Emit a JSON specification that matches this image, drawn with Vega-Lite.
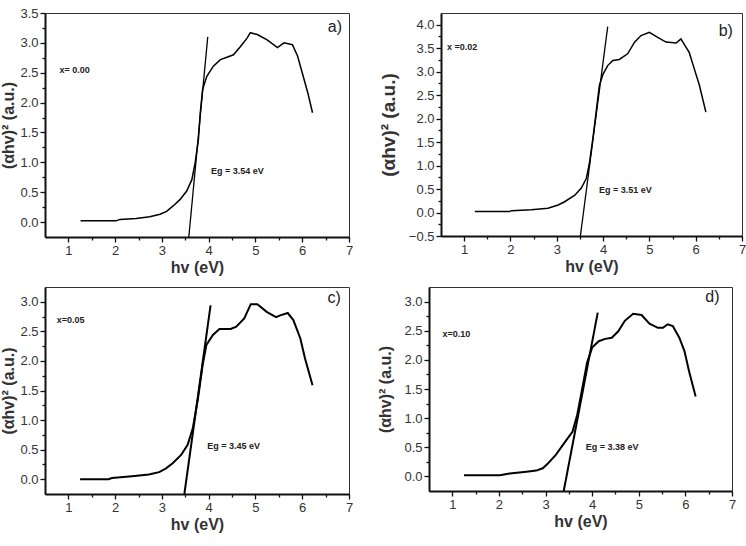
{
  "$schema": "https://vega.github.io/schema/vega-lite/v6.json",
  "padding": {"left": 0, "top": 6, "right": 0, "bottom": 0},
  "background": "white",
  "datasets": {
    "curves": [
      {"panel": "a", "hv": 1.26, "y": 0.02}, {"panel": "a", "hv": 2.02, "y": 0.02}, {"panel": "a", "hv": 2.1, "y": 0.045},
      {"panel": "a", "hv": 2.45, "y": 0.06}, {"panel": "a", "hv": 2.74, "y": 0.09}, {"panel": "a", "hv": 2.96, "y": 0.13},
      {"panel": "a", "hv": 3.1, "y": 0.18}, {"panel": "a", "hv": 3.24, "y": 0.27}, {"panel": "a", "hv": 3.39, "y": 0.38},
      {"panel": "a", "hv": 3.53, "y": 0.52}, {"panel": "a", "hv": 3.64, "y": 0.71}, {"panel": "a", "hv": 3.71, "y": 0.99},
      {"panel": "a", "hv": 3.78, "y": 1.38}, {"panel": "a", "hv": 3.82, "y": 1.83}, {"panel": "a", "hv": 3.87, "y": 2.22},
      {"panel": "a", "hv": 3.96, "y": 2.44}, {"panel": "a", "hv": 4.1, "y": 2.61}, {"panel": "a", "hv": 4.25, "y": 2.72},
      {"panel": "a", "hv": 4.39, "y": 2.76}, {"panel": "a", "hv": 4.53, "y": 2.8}, {"panel": "a", "hv": 4.68, "y": 2.94},
      {"panel": "a", "hv": 4.82, "y": 3.08}, {"panel": "a", "hv": 4.89, "y": 3.17}, {"panel": "a", "hv": 5.04, "y": 3.14},
      {"panel": "a", "hv": 5.25, "y": 3.05}, {"panel": "a", "hv": 5.47, "y": 2.92}, {"panel": "a", "hv": 5.61, "y": 3.0},
      {"panel": "a", "hv": 5.79, "y": 2.97}, {"panel": "a", "hv": 5.9, "y": 2.78}, {"panel": "a", "hv": 6.0, "y": 2.5},
      {"panel": "a", "hv": 6.12, "y": 2.16}, {"panel": "a", "hv": 6.22, "y": 1.83},

      {"panel": "b", "hv": 1.23, "y": 0.02}, {"panel": "b", "hv": 1.98, "y": 0.02}, {"panel": "b", "hv": 2.02, "y": 0.04},
      {"panel": "b", "hv": 2.45, "y": 0.06}, {"panel": "b", "hv": 2.81, "y": 0.09}, {"panel": "b", "hv": 3.03, "y": 0.16},
      {"panel": "b", "hv": 3.17, "y": 0.23}, {"panel": "b", "hv": 3.39, "y": 0.37}, {"panel": "b", "hv": 3.53, "y": 0.52},
      {"panel": "b", "hv": 3.64, "y": 0.73}, {"panel": "b", "hv": 3.71, "y": 1.08}, {"panel": "b", "hv": 3.78, "y": 1.58},
      {"panel": "b", "hv": 3.85, "y": 2.14}, {"panel": "b", "hv": 3.92, "y": 2.71}, {"panel": "b", "hv": 4.0, "y": 2.95},
      {"panel": "b", "hv": 4.1, "y": 3.13}, {"panel": "b", "hv": 4.21, "y": 3.24}, {"panel": "b", "hv": 4.35, "y": 3.26},
      {"panel": "b", "hv": 4.53, "y": 3.38}, {"panel": "b", "hv": 4.68, "y": 3.63}, {"panel": "b", "hv": 4.82, "y": 3.77},
      {"panel": "b", "hv": 5.0, "y": 3.84}, {"panel": "b", "hv": 5.18, "y": 3.73}, {"panel": "b", "hv": 5.36, "y": 3.63},
      {"panel": "b", "hv": 5.58, "y": 3.61}, {"panel": "b", "hv": 5.68, "y": 3.7}, {"panel": "b", "hv": 5.86, "y": 3.41},
      {"panel": "b", "hv": 5.97, "y": 3.06}, {"panel": "b", "hv": 6.08, "y": 2.71}, {"panel": "b", "hv": 6.22, "y": 2.14},

      {"panel": "c", "hv": 1.25, "y": 0.0}, {"panel": "c", "hv": 1.86, "y": 0.0}, {"panel": "c", "hv": 1.93, "y": 0.02},
      {"panel": "c", "hv": 2.36, "y": 0.05}, {"panel": "c", "hv": 2.72, "y": 0.08}, {"panel": "c", "hv": 2.94, "y": 0.12},
      {"panel": "c", "hv": 3.08, "y": 0.18}, {"panel": "c", "hv": 3.23, "y": 0.27}, {"panel": "c", "hv": 3.41, "y": 0.41},
      {"panel": "c", "hv": 3.55, "y": 0.58}, {"panel": "c", "hv": 3.66, "y": 0.86}, {"panel": "c", "hv": 3.77, "y": 1.36},
      {"panel": "c", "hv": 3.87, "y": 1.93}, {"panel": "c", "hv": 3.95, "y": 2.27}, {"panel": "c", "hv": 4.09, "y": 2.44},
      {"panel": "c", "hv": 4.23, "y": 2.54}, {"panel": "c", "hv": 4.47, "y": 2.54}, {"panel": "c", "hv": 4.59, "y": 2.58},
      {"panel": "c", "hv": 4.76, "y": 2.72}, {"panel": "c", "hv": 4.9, "y": 2.96}, {"panel": "c", "hv": 5.04, "y": 2.96},
      {"panel": "c", "hv": 5.24, "y": 2.83}, {"panel": "c", "hv": 5.44, "y": 2.74}, {"panel": "c", "hv": 5.53, "y": 2.77},
      {"panel": "c", "hv": 5.69, "y": 2.81}, {"panel": "c", "hv": 5.81, "y": 2.69}, {"panel": "c", "hv": 5.96, "y": 2.38},
      {"panel": "c", "hv": 6.06, "y": 2.04}, {"panel": "c", "hv": 6.22, "y": 1.59},

      {"panel": "d", "hv": 1.25, "y": 0.02}, {"panel": "d", "hv": 2.02, "y": 0.02}, {"panel": "d", "hv": 2.23, "y": 0.05},
      {"panel": "d", "hv": 2.59, "y": 0.08}, {"panel": "d", "hv": 2.8, "y": 0.1}, {"panel": "d", "hv": 2.94, "y": 0.14},
      {"panel": "d", "hv": 3.05, "y": 0.22}, {"panel": "d", "hv": 3.22, "y": 0.37}, {"panel": "d", "hv": 3.4, "y": 0.57},
      {"panel": "d", "hv": 3.58, "y": 0.77}, {"panel": "d", "hv": 3.68, "y": 1.06}, {"panel": "d", "hv": 3.79, "y": 1.52},
      {"panel": "d", "hv": 3.89, "y": 1.95}, {"panel": "d", "hv": 4.0, "y": 2.21}, {"panel": "d", "hv": 4.14, "y": 2.32},
      {"panel": "d", "hv": 4.28, "y": 2.36}, {"panel": "d", "hv": 4.42, "y": 2.38}, {"panel": "d", "hv": 4.56, "y": 2.49},
      {"panel": "d", "hv": 4.7, "y": 2.67}, {"panel": "d", "hv": 4.88, "y": 2.79}, {"panel": "d", "hv": 5.06, "y": 2.77},
      {"panel": "d", "hv": 5.23, "y": 2.62}, {"panel": "d", "hv": 5.41, "y": 2.55}, {"panel": "d", "hv": 5.52, "y": 2.55},
      {"panel": "d", "hv": 5.62, "y": 2.61}, {"panel": "d", "hv": 5.73, "y": 2.58}, {"panel": "d", "hv": 5.87, "y": 2.38},
      {"panel": "d", "hv": 5.98, "y": 2.15}, {"panel": "d", "hv": 6.08, "y": 1.8}, {"panel": "d", "hv": 6.22, "y": 1.37}
    ],
    "tangents": [
      {"panel": "a", "hv": 3.575, "y": -0.25}, {"panel": "a", "hv": 3.98, "y": 3.1},
      {"panel": "b", "hv": 3.51, "y": -0.5}, {"panel": "b", "hv": 4.1, "y": 3.96},
      {"panel": "c", "hv": 3.48, "y": -0.25}, {"panel": "c", "hv": 4.04, "y": 2.94},
      {"panel": "d", "hv": 3.39, "y": -0.25}, {"panel": "d", "hv": 4.12, "y": 2.81}
    ],
    "notes": [
      {"panel": "a", "kind": "small", "hv": 0.81, "y": 2.55, "text": "x= 0.00"},
      {"panel": "a", "kind": "small", "hv": 4.05, "y": 0.86, "text": "Eg = 3.54 eV"},
      {"panel": "a", "kind": "tag", "hv": 6.7, "y": 3.27, "text": "a)"},
      {"panel": "b", "kind": "small", "hv": 0.63, "y": 3.52, "text": "x =0.02"},
      {"panel": "b", "kind": "small", "hv": 3.91, "y": 0.48, "text": "Eg = 3.51 eV"},
      {"panel": "b", "kind": "tag", "hv": 6.65, "y": 3.87, "text": "b)"},
      {"panel": "c", "kind": "small", "hv": 0.75, "y": 2.69, "text": "x=0.05"},
      {"panel": "c", "kind": "small", "hv": 3.97, "y": 0.56, "text": "Eg = 3.45 eV"},
      {"panel": "c", "kind": "tag", "hv": 6.68, "y": 3.07, "text": "c)"},
      {"panel": "d", "kind": "small", "hv": 0.79, "y": 2.45, "text": "x=0.10"},
      {"panel": "d", "kind": "small", "hv": 3.86, "y": 0.5, "text": "Eg = 3.38 eV"},
      {"panel": "d", "kind": "tag", "hv": 6.58, "y": 3.08, "text": "d)"}
    ]
  },
  "spacing": 10,
  "vconcat": [
    {
      "spacing": 24,
      "hconcat": [
        {
          "width": 304, "height": 224,
          "resolve": {"axis": {"x": "independent", "y": "independent"}},
          "layer": [
            {"data": {"name": "curves"}, "transform": [{"filter": "datum.panel === 'a'"}],
             "mark": {"type": "line", "color": "black", "strokeWidth": 1.5},
             "encoding": {
               "x": {"field": "hv", "type": "quantitative", "scale": {"domain": [0.5, 7], "nice": false},
                     "axis": {"orient": "bottom", "title": "hv (eV)", "values": [1, 2, 3, 4, 5, 6, 7]}},
               "y": {"field": "y", "type": "quantitative", "scale": {"domain": [-0.25, 3.5], "nice": false},
                     "axis": {"orient": "left", "title": "(αhv)² (a.u.)", "format": ".1f", "values": [0, 0.5, 1, 1.5, 2, 2.5, 3, 3.5]}}
             }},
            {"data": {"name": "tangents"}, "transform": [{"filter": "datum.panel === 'a'"}],
             "mark": {"type": "line", "color": "black", "strokeWidth": 1.3},
             "encoding": {
               "x": {"field": "hv", "type": "quantitative",
                     "axis": {"orient": "bottom", "title": null, "labels": false, "domain": false, "tickSize": 3, "values": [1.5, 2.5, 3.5, 4.5, 5.5, 6.5]}},
               "y": {"field": "y", "type": "quantitative",
                     "axis": {"orient": "left", "title": null, "labels": false, "domain": false, "tickSize": 3, "values": [0.25, 0.75, 1.25, 1.75, 2.25, 2.75, 3.25]}}
             }},
            {"data": {"name": "notes"}, "transform": [{"filter": "datum.panel === 'a' && datum.kind === 'small'"}],
             "mark": {"type": "text", "align": "left", "fontSize": 9, "fontWeight": "bold", "color": "#222"},
             "encoding": {"x": {"field": "hv", "type": "quantitative", "axis": null}, "y": {"field": "y", "type": "quantitative", "axis": null}, "text": {"field": "text"}}},
            {"data": {"name": "notes"}, "transform": [{"filter": "datum.panel === 'a' && datum.kind === 'tag'"}],
             "mark": {"type": "text", "align": "center", "fontSize": 16, "color": "#222"},
             "encoding": {"x": {"field": "hv", "type": "quantitative", "axis": null}, "y": {"field": "y", "type": "quantitative", "axis": null}, "text": {"field": "text"}}}
          ]
        },
        {
          "width": 301, "height": 223,
          "resolve": {"axis": {"x": "independent", "y": "independent"}},
          "layer": [
            {"data": {"name": "curves"}, "transform": [{"filter": "datum.panel === 'b'"}],
             "mark": {"type": "line", "color": "black", "strokeWidth": 1.5},
             "encoding": {
               "x": {"field": "hv", "type": "quantitative", "scale": {"domain": [0.5, 7], "nice": false},
                     "axis": {"orient": "bottom", "title": "hv (eV)", "values": [1, 2, 3, 4, 5, 6, 7]}},
               "y": {"field": "y", "type": "quantitative", "scale": {"domain": [-0.5, 4.25], "nice": false},
                     "axis": {"orient": "left", "title": "(αhv)² (a.u.)", "format": ".1f", "titleFontSize": 19, "titlePadding": 10,
                              "values": [-0.5, 0, 0.5, 1, 1.5, 2, 2.5, 3, 3.5, 4]}}
             }},
            {"data": {"name": "tangents"}, "transform": [{"filter": "datum.panel === 'b'"}],
             "mark": {"type": "line", "color": "black", "strokeWidth": 1.3},
             "encoding": {
               "x": {"field": "hv", "type": "quantitative",
                     "axis": {"orient": "bottom", "title": null, "labels": false, "domain": false, "tickSize": 3, "values": [1.5, 2.5, 3.5, 4.5, 5.5, 6.5]}},
               "y": {"field": "y", "type": "quantitative",
                     "axis": {"orient": "left", "title": null, "labels": false, "domain": false, "tickSize": 3, "values": [-0.25, 0.25, 0.75, 1.25, 1.75, 2.25, 2.75, 3.25, 3.75]}}
             }},
            {"data": {"name": "notes"}, "transform": [{"filter": "datum.panel === 'b' && datum.kind === 'small'"}],
             "mark": {"type": "text", "align": "left", "fontSize": 9, "fontWeight": "bold", "color": "#222"},
             "encoding": {"x": {"field": "hv", "type": "quantitative", "axis": null}, "y": {"field": "y", "type": "quantitative", "axis": null}, "text": {"field": "text"}}},
            {"data": {"name": "notes"}, "transform": [{"filter": "datum.panel === 'b' && datum.kind === 'tag'"}],
             "mark": {"type": "text", "align": "center", "fontSize": 16, "color": "#222"},
             "encoding": {"x": {"field": "hv", "type": "quantitative", "axis": null}, "y": {"field": "y", "type": "quantitative", "axis": null}, "text": {"field": "text"}}}
          ]
        }
      ]
    },
    {
      "spacing": 23,
      "hconcat": [
        {
          "width": 304, "height": 207,
          "resolve": {"axis": {"x": "independent", "y": "independent"}},
          "layer": [
            {"data": {"name": "curves"}, "transform": [{"filter": "datum.panel === 'c'"}],
             "mark": {"type": "line", "color": "black", "strokeWidth": 2},
             "encoding": {
               "x": {"field": "hv", "type": "quantitative", "scale": {"domain": [0.5, 7], "nice": false},
                     "axis": {"orient": "bottom", "title": "hv (eV)", "values": [1, 2, 3, 4, 5, 6, 7]}},
               "y": {"field": "y", "type": "quantitative", "scale": {"domain": [-0.25, 3.25], "nice": false},
                     "axis": {"orient": "left", "title": "(αhv)² (a.u.)", "format": ".1f", "values": [0, 0.5, 1, 1.5, 2, 2.5, 3]}}
             }},
            {"data": {"name": "tangents"}, "transform": [{"filter": "datum.panel === 'c'"}],
             "mark": {"type": "line", "color": "black", "strokeWidth": 2},
             "encoding": {
               "x": {"field": "hv", "type": "quantitative",
                     "axis": {"orient": "bottom", "title": null, "labels": false, "domain": false, "tickSize": 3, "values": [1.5, 2.5, 3.5, 4.5, 5.5, 6.5]}},
               "y": {"field": "y", "type": "quantitative",
                     "axis": {"orient": "left", "title": null, "labels": false, "domain": false, "tickSize": 3, "values": [0.25, 0.75, 1.25, 1.75, 2.25, 2.75]}}
             }},
            {"data": {"name": "notes"}, "transform": [{"filter": "datum.panel === 'c' && datum.kind === 'small'"}],
             "mark": {"type": "text", "align": "left", "fontSize": 9, "fontWeight": "bold", "color": "#222"},
             "encoding": {"x": {"field": "hv", "type": "quantitative", "axis": null}, "y": {"field": "y", "type": "quantitative", "axis": null}, "text": {"field": "text"}}},
            {"data": {"name": "notes"}, "transform": [{"filter": "datum.panel === 'c' && datum.kind === 'tag'"}],
             "mark": {"type": "text", "align": "center", "fontSize": 16, "color": "#222"},
             "encoding": {"x": {"field": "hv", "type": "quantitative", "axis": null}, "y": {"field": "y", "type": "quantitative", "axis": null}, "text": {"field": "text"}}}
          ]
        },
        {
          "width": 303, "height": 204,
          "resolve": {"axis": {"x": "independent", "y": "independent"}},
          "layer": [
            {"data": {"name": "curves"}, "transform": [{"filter": "datum.panel === 'd'"}],
             "mark": {"type": "line", "color": "black", "strokeWidth": 2},
             "encoding": {
               "x": {"field": "hv", "type": "quantitative", "scale": {"domain": [0.5, 7], "nice": false},
                     "axis": {"orient": "bottom", "title": "hv (eV)", "values": [1, 2, 3, 4, 5, 6, 7]}},
               "y": {"field": "y", "type": "quantitative", "scale": {"domain": [-0.25, 3.25], "nice": false},
                     "axis": {"orient": "left", "title": "(αhv)² (a.u.)", "format": ".1f", "titlePadding": 10, "values": [0, 0.5, 1, 1.5, 2, 2.5, 3]}}
             }},
            {"data": {"name": "tangents"}, "transform": [{"filter": "datum.panel === 'd'"}],
             "mark": {"type": "line", "color": "black", "strokeWidth": 2},
             "encoding": {
               "x": {"field": "hv", "type": "quantitative",
                     "axis": {"orient": "bottom", "title": null, "labels": false, "domain": false, "tickSize": 3, "values": [1.5, 2.5, 3.5, 4.5, 5.5, 6.5]}},
               "y": {"field": "y", "type": "quantitative",
                     "axis": {"orient": "left", "title": null, "labels": false, "domain": false, "tickSize": 3, "values": [0.25, 0.75, 1.25, 1.75, 2.25, 2.75]}}
             }},
            {"data": {"name": "notes"}, "transform": [{"filter": "datum.panel === 'd' && datum.kind === 'small'"}],
             "mark": {"type": "text", "align": "left", "fontSize": 9, "fontWeight": "bold", "color": "#222"},
             "encoding": {"x": {"field": "hv", "type": "quantitative", "axis": null}, "y": {"field": "y", "type": "quantitative", "axis": null}, "text": {"field": "text"}}},
            {"data": {"name": "notes"}, "transform": [{"filter": "datum.panel === 'd' && datum.kind === 'tag'"}],
             "mark": {"type": "text", "align": "center", "fontSize": 16, "color": "#222"},
             "encoding": {"x": {"field": "hv", "type": "quantitative", "axis": null}, "y": {"field": "y", "type": "quantitative", "axis": null}, "text": {"field": "text"}}}
          ]
        }
      ]
    }
  ],
  "config": {
    "font": "Liberation Sans",
    "concat": {"spacing": 20},
    "view": {"stroke": "#333", "strokeWidth": 1},
    "axis": {
      "grid": false,
      "domainColor": "#111", "domainWidth": 2,
      "tickColor": "#111", "tickWidth": 1.3, "tickSize": 5,
      "labelFont": "Liberation Sans", "labelFontSize": 13, "labelColor": "#333", "labelPadding": 2, "labelOverlap": false,
      "titleFont": "Liberation Sans", "titleFontSize": 16, "titleFontWeight": "bold", "titleColor": "#333"
    },
    "axisX": {"titlePadding": 2, "labelFlush": false},
    "axisY": {"titlePadding": 3, "labelFlush": false}
  }
}
